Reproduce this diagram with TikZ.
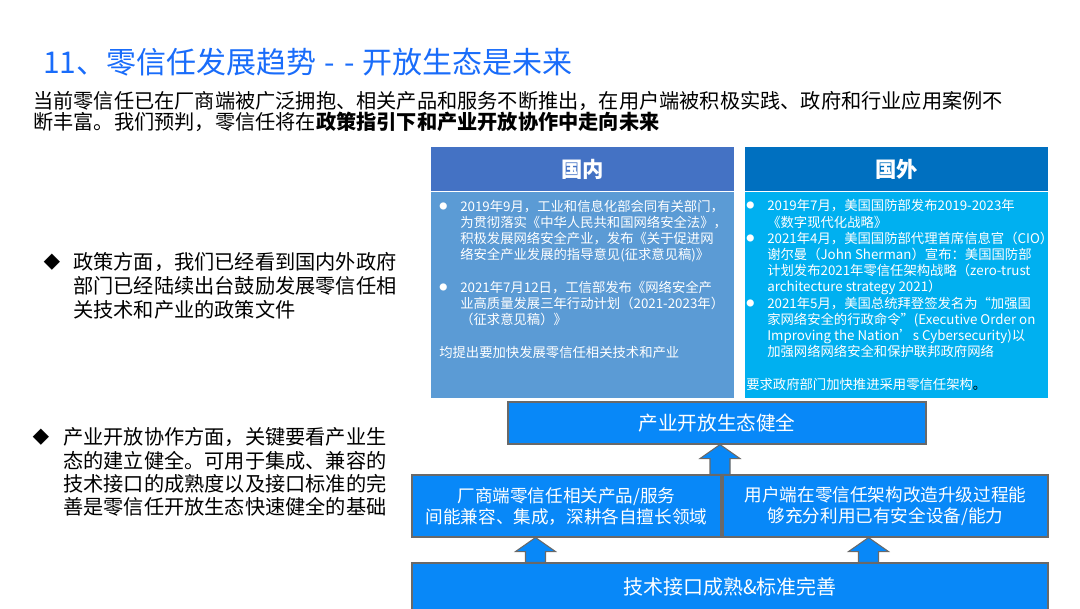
\documentclass[tikz,border=0pt]{standalone}
\usepackage{fontspec}
\setmainfont{Noto Sans CJK SC}
\usetikzlibrary{positioning,calc}

\definecolor{titleblue}{RGB}{25,108,250}
\definecolor{domhead}{RGB}{68,114,196}
\definecolor{dombody}{RGB}{91,155,213}
\definecolor{forhead}{RGB}{0,112,192}
\definecolor{forbody}{RGB}{0,176,240}
\definecolor{boxblue}{RGB}{8,136,248}
\definecolor{boxline}{RGB}{105,105,105}

\tikzset{
  cardhead/.style={minimum width=227.25pt, minimum height=33pt, inner sep=0pt,
    text=white, font=\fontsize{16pt}{19pt}\selectfont\bfseries},
  cardbody/.style={minimum width=227.25pt, minimum height=154.5pt, inner sep=0pt},
  cardtext/.style={anchor=west, align=left, inner sep=0pt, text=white,
    font=\fontsize{10pt}{12.17pt}\selectfont},
  flowbox/.style={draw=boxline, line width=0.8pt, fill=boxblue, text=white,
    inner sep=0pt, align=center},
  blockarrow/.style={draw=boxline, line width=0.8pt, fill=boxblue},
  sidetext/.style={anchor=west, align=left, inner sep=0pt, text=black},
}

\newcommand{\bul}{\makebox[15.75pt][l]{\raisebox{1.5pt}{\fontsize{6pt}{6pt}\selectfont ●}}}
\newcommand{\ind}{\hspace*{15.75pt}}
% block arrow pointing up, from #1 (bottom) to #2 (tip)
\newcommand{\uparrowbox}[2]{%
  \draw[blockarrow] let \p1=(#1), \p2=(#2) in
    (\x1-7.5pt,\y1) -- (\x1-7.5pt,\y2-10.5pt) -- (\x1-15pt,\y2-10.5pt) -- (\x1,\y2)
    -- (\x1+15pt,\y2-10.5pt) -- (\x1+7.5pt,\y2-10.5pt) -- (\x1+7.5pt,\y1) -- cycle;}

\begin{document}
\begin{tikzpicture}[x=0.75pt, y=-0.75pt]
\useasboundingbox (0,0) rectangle (1080,608);

% Titulo
\node[anchor=west, inner sep=0pt, text=titleblue, font=\fontsize{22.5pt}{26pt}\selectfont]
  (title) at (43,62) {11、零信任发展趋势\kern6pt-\kern7pt-\kern6pt开放生态是未来};

% Introduccion
\node[sidetext, font=\fontsize{15.15pt}{14.5pt}\selectfont] (intro) at (33,111.5)
  {当前零信任已在厂商端被广泛拥抱、相关产品和服务不断推出，在用户端被积极实践、政府和行业应用案例不\\
   断丰富。我们预判，零信任将在{\bfseries 政策指引下和产业开放协作中走向未来}};

% Puntos a la izquierda
\node[inner sep=0pt, font=\fontsize{12.5pt}{12.5pt}\selectfont] (diaA) at (52,262) {◆};
\node[sidetext, font=\fontsize{15.15pt}{18pt}\selectfont] (policy) at (73,286)
  {政策方面，我们已经看到国内外政府\\部门已经陆续出台鼓励发展零信任相\\关技术和产业的政策文件};
\node[inner sep=0pt, font=\fontsize{12.5pt}{12.5pt}\selectfont] (diaB) at (41,437) {◆};
\node[sidetext, font=\fontsize{15.15pt}{17.5pt}\selectfont] (industry) at (63,472)
  {产业开放协作方面，关键要看产业生\\态的建立健全。可用于集成、兼容的\\技术接口的成熟度以及接口标准的完\\善是零信任开放生态快速健全的基础};

% Tarjeta nacional
\node[cardhead, fill=domhead] (domHead) at (582.5,169) {国内};
\node[cardbody, fill=dombody, below=0pt of domHead] (domBody) {};
\node[cardtext] (domText) at (439,279)
  {\bul 2019年9月，工业和信息化部会同有关部门，\\
   \ind 为贯彻落实《中华人民共和国网络安全法》，\\
   \ind 积极发展网络安全产业，发布《关于促进网\\
   \ind 络安全产业发展的指导意见(征求意见稿)》\\[12.17pt]
   \bul 2021年7月12日，工信部发布《网络安全产\\
   \ind 业高质量发展三年行动计划（2021-2023年）\\
   \ind （征求意见稿）》\\[12.17pt]
   均提出要加快发展零信任相关技术和产业};

% Tarjeta extranjera
\node[cardhead, fill=forhead] (forHead) at (896.5,169) {国外};
\node[cardbody, fill=forbody, below=0pt of forHead] (forBody) {};
\begin{scope}
\clip (forBody.south west) rectangle (forHead.north east);
\node[cardtext] (forText) at (746,295)
  {\bul 2019年7月，美国国防部发布2019-2023年\\
   \ind 《数字现代化战略》\\
   \bul 2021年4月，美国国防部代理首席信息官（CIO）\\
   \ind 谢尔曼（John Sherman）宣布：美国国防部\\
   \ind 计划发布2021年零信任架构战略（zero-trust\\
   \ind architecture strategy 2021）\\
   \bul 2021年5月，美国总统拜登签发名为“加强国\\
   \ind 家网络安全的行政命令”(Executive Order on\\
   \ind Improving the Nation’s Cybersecurity)以\\
   \ind 加强网络网络安全和保护联邦政府网络\\[12.17pt]
   要求政府部门加快推进采用零信任架构{\color{black}。}};
\end{scope}

% Cajas del ecosistema
\node[flowbox, minimum width=313.5pt, minimum height=31.5pt,
  font=\fontsize{14.7pt}{17pt}\selectfont] (eco) at (717,423) {产业开放生态健全};
\node[flowbox, minimum width=231.75pt, minimum height=46.5pt,
  font=\fontsize{13.2pt}{15.75pt}\selectfont] (vendor) at (566.5,506)
  {厂商端零信任相关产品/服务\\间能兼容、集成，深耕各自擅长领域};
\node[flowbox, minimum width=243.75pt, minimum height=46.5pt,
  font=\fontsize{13.2pt}{15.75pt}\selectfont] (user) at (885.5,506)
  {用户端在零信任架构改造升级过程能\\够充分利用已有安全设备/能力};
\node[flowbox, minimum width=477pt, minimum height=36pt,
  font=\fontsize{15pt}{18pt}\selectfont] (tech) at (730,587) {技术接口成熟\&标准完善};

% Flechas
\coordinate (colA) at (720,0);
\coordinate (colB) at (535.5,0);
\coordinate (colC) at (868.5,0);
\uparrowbox{vendor.north -| colA}{eco.south -| colA}
\uparrowbox{tech.north -| colB}{vendor.south -| colB}
\uparrowbox{tech.north -| colC}{user.south -| colC}

\end{tikzpicture}
\end{document}
